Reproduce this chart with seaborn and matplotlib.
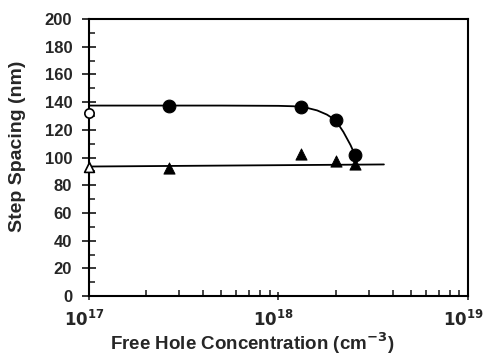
import matplotlib
matplotlib.use("Agg")
import matplotlib.pyplot as plt
import matplotlib.transforms as mtransforms
import seaborn as sns
import numpy as np
from matplotlib.ticker import LogLocator, MultipleLocator, FixedLocator, NullFormatter

# Data
conc_filled = [2.65e17, 1.32e18, 2.0e18, 2.52e18]
step_circle = [137.5, 136.5, 127, 102]
step_triangle = [92.5, 102.5, 97.5, 95.5]

conc_open = [1.0e17]
open_circle = [132]
open_triangle = [93.5]

# fitted curves
fit_circle_x = [1.0e17, 5e17, 1.0e18, 1.2e18, 1.4e18, 1.6e18, 1.8e18, 2.0e18, 2.2e18, 2.4e18, 2.55e18]
fit_circle_y = [137.5, 137.5, 137.3, 137, 136, 134, 131, 127, 118.5, 109, 101]
fit_tri_x = [1.0e17, 3.6e18]
fit_tri_y = [93.5, 95]

xtick_vals = [1e17, 1e18, 1e19]
xtick_labels = [r'$\mathbf{10^{17}}$', r'$\mathbf{10^{18}}$', r'$\mathbf{10^{19}}$']

sns.set_style("ticks")
plt.rcParams['font.family'] = ['Liberation Sans', 'DejaVu Sans']
plt.rcParams['font.weight'] = 'bold'

fig = plt.figure(figsize=(4.83, 3.58), dpi=100)
ax = fig.add_axes([0.184, 0.173, 0.785, 0.774])

sns.lineplot(x=fit_circle_x, y=fit_circle_y, ax=ax, color='black', lw=1.3, sort=False)
sns.lineplot(x=fit_tri_x, y=fit_tri_y, ax=ax, color='black', lw=1.3, sort=False)

sns.scatterplot(x=conc_filled, y=step_circle, ax=ax, marker='o', s=85,
                color='black', edgecolor='black', zorder=5)
sns.scatterplot(x=conc_filled, y=step_triangle, ax=ax, marker='^', s=65,
                color='black', edgecolor='black', zorder=5)
sns.scatterplot(x=conc_open, y=open_circle, ax=ax, marker='o', s=45,
                facecolor='white', edgecolor='black', linewidth=1.2, zorder=6, clip_on=False)
sns.scatterplot(x=conc_open, y=open_triangle, ax=ax, marker='^', s=50,
                facecolor='white', edgecolor='black', linewidth=1.2, zorder=6, clip_on=False)

ax.set_xscale('log')
ax.set_xlim(1e17, 1e19)
ax.set_ylim(0, 200)

ax.xaxis.set_major_locator(FixedLocator(xtick_vals))
ax.set_xticklabels(xtick_labels)
ax.xaxis.set_minor_locator(LogLocator(base=10, subs=np.arange(2, 10)))
ax.xaxis.set_minor_formatter(NullFormatter())
ax.yaxis.set_major_locator(MultipleLocator(20))
ax.yaxis.set_minor_locator(MultipleLocator(10))

for s in ax.spines.values():
    s.set_linewidth(1.5)
    s.set_color('black')

ax.tick_params(axis='y', which='major', direction='inout', length=10, width=1.3,
               labelsize=12, pad=7)
ax.tick_params(axis='y', which='minor', direction='in', length=4, width=1.2)
ax.tick_params(axis='x', which='major', direction='inout', length=6, width=1.2,
               labelsize=12, pad=6)
ax.tick_params(axis='x', which='minor', direction='in', length=4, width=1.2)
for lbl in ax.get_yticklabels():
    lbl.set_fontweight('bold')

shift = mtransforms.ScaledTranslation(-5 / 100, 0, fig.dpi_scale_trans)
for lbl in ax.get_xticklabels():
    lbl.set_transform(lbl.get_transform() + shift)

ax.set_xlabel('Free Hole Concentration (cm$^{\\mathbf{-3}}$)', fontsize=13.5,
              fontweight='bold')
ax.xaxis.set_label_coords(0.43, -0.125)
ax.set_ylabel('Step Spacing (nm)', fontsize=14, fontweight='bold')
ax.yaxis.set_label_coords(-0.165, 0.54)

fig.savefig('out.png', dpi=100)
